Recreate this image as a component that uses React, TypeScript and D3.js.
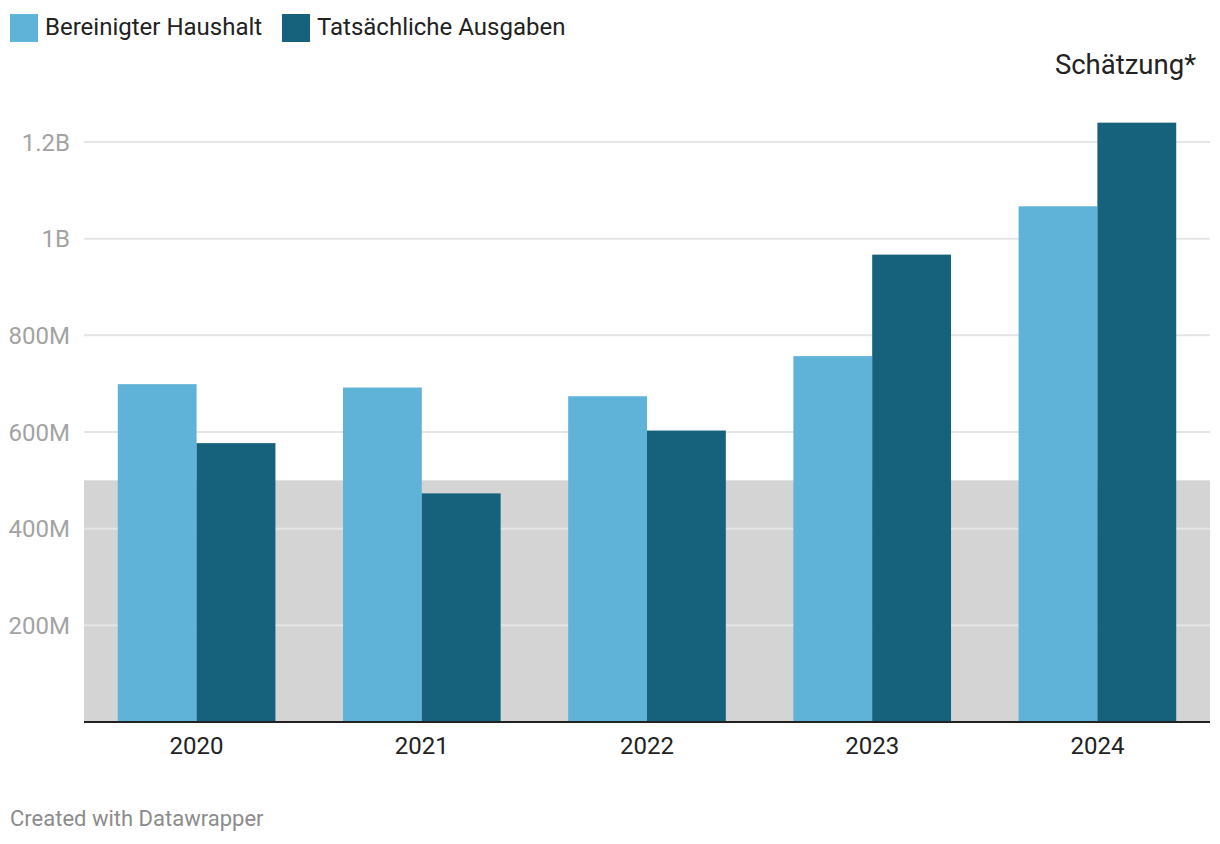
import React from "react";
import * as d3 from "d3";

const years = ["2020", "2021", "2022", "2023", "2024"];
const seriesNames = ["Bereinigter Haushalt", "Tatsächliche Ausgaben"];
const bereinigt = [699, 692, 674, 757, 1067]; // in millions
const tatsaechlich = [577, 473, 603, 967, 1240]; // in millions
const yTicks = [200, 400, 600, 800, 1000, 1200];
const yTickLabels = ["200M", "400M", "600M", "800M", "1B", "1.2B"];
const bandValue = 500;
const colors = ["#60b3d8", "#16617c"];

const W = 1220;
const H = 844;
const FONT = "Roboto, 'Noto Sans', sans-serif";

export default function App() {
  const x = d3.scaleBand<string>().domain(years).range([84, 1210]).paddingInner(0.3).paddingOuter(0.15);
  const xs = d3.scaleBand<string>().domain(seriesNames).range([0, x.bandwidth()]).padding(0);
  const y = d3.scaleLinear().domain([0, 1200]).range([722, 142]);
  const series = [bereinigt, tatsaechlich];

  return (
    <div style={{ position: "absolute", left: 0, top: 0 }}>
      <svg width={W} height={H} style={{ display: "block", fontFamily: FONT }}>
        <rect x={0} y={0} width={W} height={H} fill="#fff" />
        {/* legend */}
        {seriesNames.map((n, i) => {
          const lx = i === 0 ? 10 : 282;
          return (
            <g key={n}>
              <rect x={lx} y={14} width={28} height={28} fill={colors[i]} />
              <text x={lx + 35} y={35} fontSize={24} fill="#222">{n}</text>
            </g>
          );
        })}
        <text x={1196} y={74} fontSize={27.5} textAnchor="end" fill="#222">Schätzung*</text>

        {/* gray band */}
        <rect x={84} y={y(bandValue)} width={1210 - 84} height={y(0) - y(bandValue)} fill="#d4d4d4" />

        {/* gridlines */}
        {yTicks.map((t) => (
          <line key={t} x1={84} x2={1210} y1={y(t)} y2={y(t)} stroke="#e5e5e5" strokeWidth={2} />
        ))}
        {yTicks.map((t, i) => (
          <text key={"l" + t} x={70} y={y(t) + 8.5} fontSize={24} textAnchor="end" fill="#a3a3a3">
            {yTickLabels[i]}
          </text>
        ))}

        {/* bars */}
        {years.map((yr, yi) => (
          <g key={yr}>
            {series.map((s, si) => (
              <rect
                key={si}
                x={(x(yr) as number) + (xs(seriesNames[si]) as number)}
                y={y(s[yi])}
                width={xs.bandwidth()}
                height={y(0) - y(s[yi])}
                fill={colors[si]}
              />
            ))}
            <text x={(x(yr) as number) + x.bandwidth() / 2} y={754} fontSize={24} textAnchor="middle" fill="#222">
              {yr}
            </text>
          </g>
        ))}

        {/* axis line */}
        <line x1={84} x2={1210} y1={y(0)} y2={y(0)} stroke="#222" strokeWidth={2} />

        <text x={10} y={826} fontSize={22} fill="#8c8c8c">Created with Datawrapper</text>
      </svg>
    </div>
  );
}
